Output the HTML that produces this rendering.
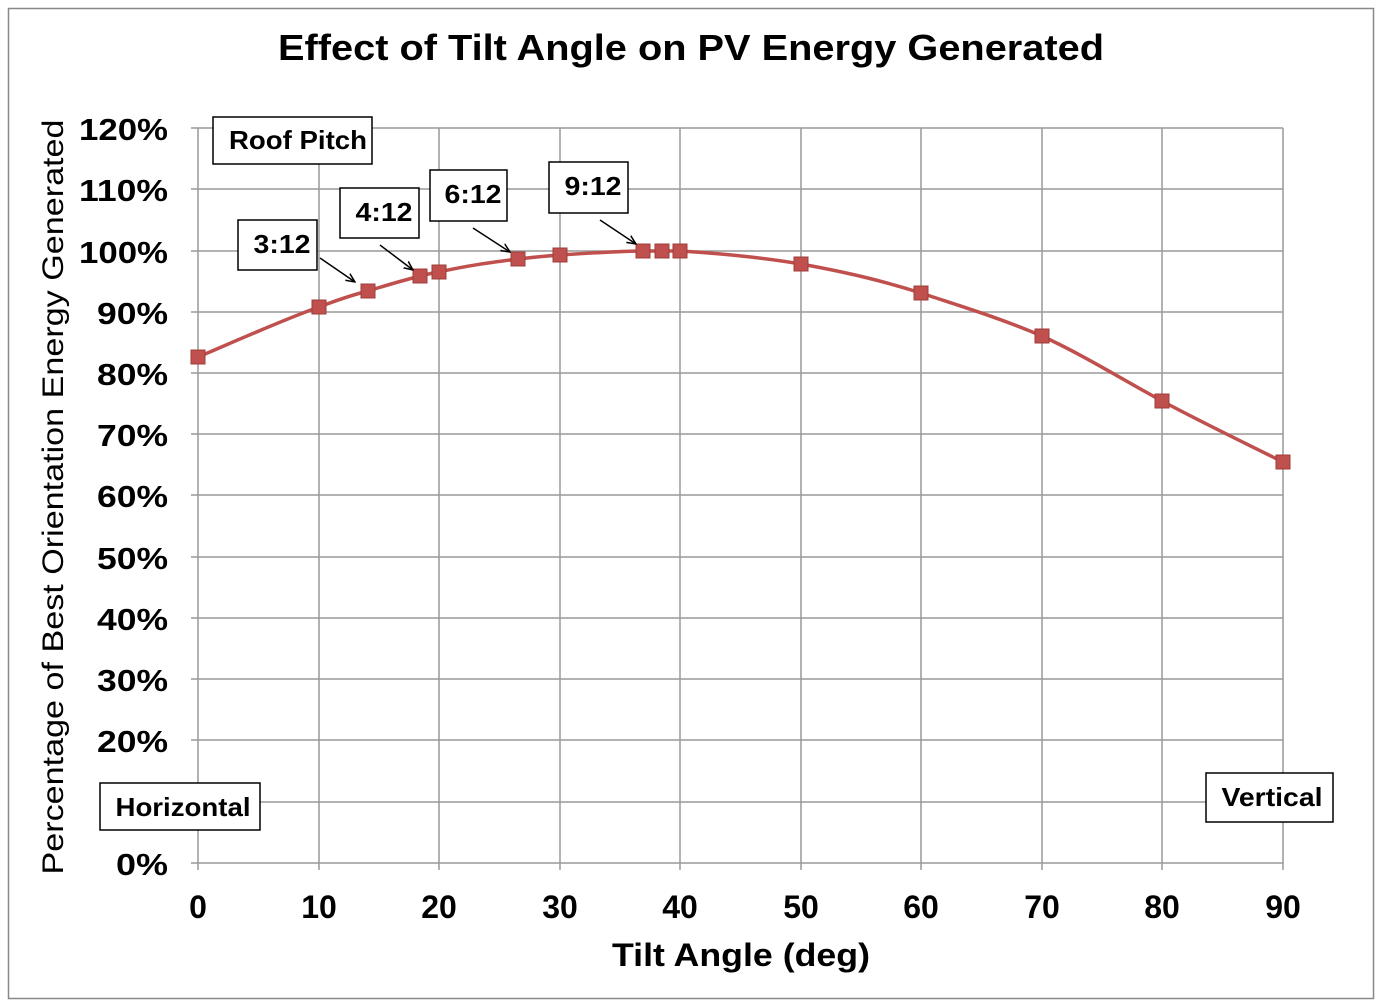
<!DOCTYPE html>
<html><head><meta charset="utf-8"><style>
html,body{margin:0;padding:0;background:#fff}
svg{display:block}
text{font-family:"Liberation Sans",Arial,sans-serif}
</style></head><body>
<svg width="1380" height="1006" viewBox="0 0 1380 1006" xmlns="http://www.w3.org/2000/svg">
<defs><marker id="ah" markerWidth="10" markerHeight="10" refX="9" refY="5" orient="auto" markerUnits="userSpaceOnUse"><path d="M0,1 L9,5 L0,9" fill="none" stroke="#000" stroke-width="1.5"/></marker></defs>
<rect x="8.5" y="8.5" width="1365" height="990" fill="#fff" stroke="#888" stroke-width="1.5"/>
<text x="691" y="60" text-anchor="middle" font-size="36" font-weight="bold" textLength="826" lengthAdjust="spacingAndGlyphs">Effect of Tilt Angle on PV Energy Generated</text>
<g stroke="#999" stroke-width="1.5">
<line x1="198" y1="128" x2="1283" y2="128"/><line x1="198" y1="189" x2="1283" y2="189"/><line x1="198" y1="251" x2="1283" y2="251"/><line x1="198" y1="312" x2="1283" y2="312"/><line x1="198" y1="373" x2="1283" y2="373"/><line x1="198" y1="434" x2="1283" y2="434"/><line x1="198" y1="495" x2="1283" y2="495"/><line x1="198" y1="557" x2="1283" y2="557"/><line x1="198" y1="618" x2="1283" y2="618"/><line x1="198" y1="679" x2="1283" y2="679"/><line x1="198" y1="740" x2="1283" y2="740"/><line x1="198" y1="802" x2="1283" y2="802"/>
<line x1="319" y1="128" x2="319" y2="870"/><line x1="439" y1="128" x2="439" y2="870"/><line x1="560" y1="128" x2="560" y2="870"/><line x1="680" y1="128" x2="680" y2="870"/><line x1="801" y1="128" x2="801" y2="870"/><line x1="921" y1="128" x2="921" y2="870"/><line x1="1042" y1="128" x2="1042" y2="870"/><line x1="1162" y1="128" x2="1162" y2="870"/><line x1="1283" y1="128" x2="1283" y2="870"/>
<line x1="198" y1="128" x2="198" y2="870"/><line x1="191" y1="863" x2="1283" y2="863"/>
<line x1="191" y1="128" x2="198" y2="128"/><line x1="191" y1="189" x2="198" y2="189"/><line x1="191" y1="251" x2="198" y2="251"/><line x1="191" y1="312" x2="198" y2="312"/><line x1="191" y1="373" x2="198" y2="373"/><line x1="191" y1="434" x2="198" y2="434"/><line x1="191" y1="495" x2="198" y2="495"/><line x1="191" y1="557" x2="198" y2="557"/><line x1="191" y1="618" x2="198" y2="618"/><line x1="191" y1="679" x2="198" y2="679"/><line x1="191" y1="740" x2="198" y2="740"/><line x1="191" y1="802" x2="198" y2="802"/>
</g>
<g font-size="31" font-weight="bold" text-anchor="end" lengthAdjust="spacingAndGlyphs">
<text x="168" y="140" textLength="89" lengthAdjust="spacingAndGlyphs">120%</text><text x="168" y="201" textLength="89" lengthAdjust="spacingAndGlyphs">110%</text><text x="168" y="263" textLength="89" lengthAdjust="spacingAndGlyphs">100%</text><text x="168" y="324" textLength="71" lengthAdjust="spacingAndGlyphs">90%</text><text x="168" y="385" textLength="71" lengthAdjust="spacingAndGlyphs">80%</text><text x="168" y="446" textLength="71" lengthAdjust="spacingAndGlyphs">70%</text><text x="168" y="507" textLength="71" lengthAdjust="spacingAndGlyphs">60%</text><text x="168" y="569" textLength="71" lengthAdjust="spacingAndGlyphs">50%</text><text x="168" y="630" textLength="71" lengthAdjust="spacingAndGlyphs">40%</text><text x="168" y="691" textLength="71" lengthAdjust="spacingAndGlyphs">30%</text><text x="168" y="752" textLength="71" lengthAdjust="spacingAndGlyphs">20%</text><text x="168" y="875" textLength="52" lengthAdjust="spacingAndGlyphs">0%</text>
</g>
<g font-size="32" font-weight="bold" text-anchor="middle">
<text x="198" y="918">0</text><text x="319" y="918">10</text><text x="439" y="918">20</text><text x="560" y="918">30</text><text x="680" y="918">40</text><text x="801" y="918">50</text><text x="921" y="918">60</text><text x="1042" y="918">70</text><text x="1162" y="918">80</text><text x="1283" y="918">90</text>
</g>
<text x="741" y="966" text-anchor="middle" font-size="32" font-weight="bold" textLength="258" lengthAdjust="spacingAndGlyphs">Tilt Angle (deg)</text>
<text transform="translate(63,497) rotate(-90)" text-anchor="middle" font-size="30" textLength="755" lengthAdjust="spacingAndGlyphs">Percentage of Best Orientation Energy Generated</text>
<path fill="none" stroke="#C0504D" stroke-width="3.5" stroke-linejoin="round" d="M198,357 C238,340 285,319 319,307 C340,299 352,295 368,291 C390,284 405,280 420,276 C428,274 432,273 439,272 C470,265 495,262 518,259 C535,257 546,256 560,255 C590,253 625,251 643,251 L662,251 C670,251 674,251 680,251 C730,254 765,258 801,264 C845,272 880,280 921,293 C960,306 1000,318 1042,336 C1085,356 1120,378 1162,401 C1205,424 1245,443 1283,462"/>
<g fill="#C0504D" stroke="#A03c39" stroke-width="1">
<rect x="191" y="350" width="14" height="14"/><rect x="312" y="300" width="14" height="14"/><rect x="361" y="284" width="14" height="14"/><rect x="413" y="269" width="14" height="14"/><rect x="432" y="265" width="14" height="14"/><rect x="511" y="252" width="14" height="14"/><rect x="553" y="248" width="14" height="14"/><rect x="636" y="244" width="14" height="14"/><rect x="655" y="244" width="14" height="14"/><rect x="673" y="244" width="14" height="14"/><rect x="794" y="257" width="14" height="14"/><rect x="914" y="286" width="14" height="14"/><rect x="1035" y="329" width="14" height="14"/><rect x="1155" y="394" width="14" height="14"/><rect x="1276" y="455" width="14" height="14"/>
</g>
<g fill="#fff" stroke="#000" stroke-width="1.5">
<rect x="213" y="117" width="159" height="47"/><rect x="238" y="220" width="79" height="50"/><rect x="340" y="188" width="79" height="50"/><rect x="430" y="170" width="77" height="51"/><rect x="549" y="162" width="79" height="51"/><rect x="100" y="783" width="160" height="47"/><rect x="1206" y="773" width="127" height="49"/>
</g>
<g font-size="26" font-weight="bold" text-anchor="middle">
<text x="298" y="149" textLength="138" lengthAdjust="spacingAndGlyphs">Roof Pitch</text><text x="282" y="253" textLength="57" lengthAdjust="spacingAndGlyphs">3:12</text><text x="384" y="221" textLength="57" lengthAdjust="spacingAndGlyphs">4:12</text><text x="473" y="203" textLength="57" lengthAdjust="spacingAndGlyphs">6:12</text><text x="593" y="195" textLength="57" lengthAdjust="spacingAndGlyphs">9:12</text><text x="183" y="816" textLength="135" lengthAdjust="spacingAndGlyphs">Horizontal</text><text x="1272" y="806" textLength="101" lengthAdjust="spacingAndGlyphs">Vertical</text>
</g>
<g stroke="#000" stroke-width="1.5" marker-end="url(#ah)">
<line x1="320" y1="258" x2="355" y2="282"/><line x1="380" y1="245" x2="413" y2="270"/><line x1="473" y1="228" x2="510" y2="252"/><line x1="600" y1="220" x2="636" y2="244"/>
</g>
</svg>
</body></html>
